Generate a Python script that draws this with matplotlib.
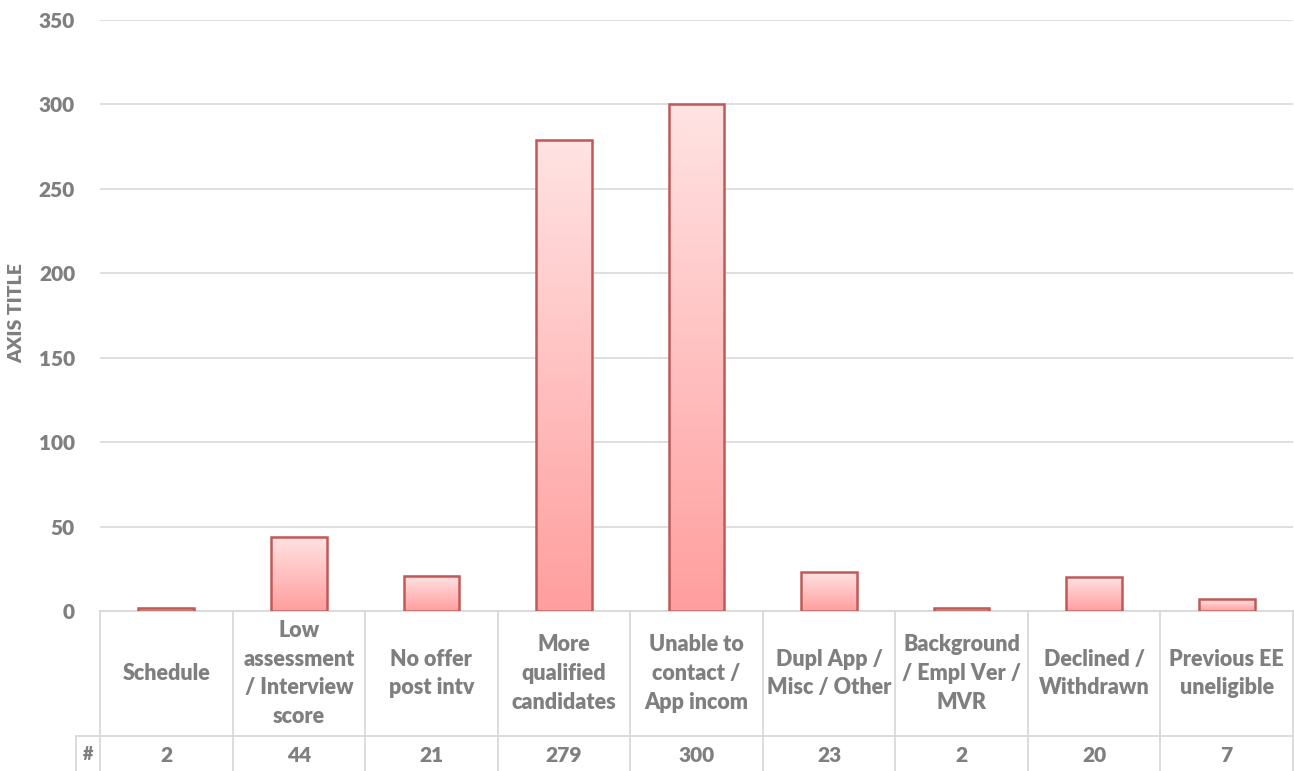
import numpy as np
import matplotlib.pyplot as plt
from matplotlib.colors import LinearSegmentedColormap
from matplotlib.lines import Line2D

categories = ['Schedule', 'Low\nassessment\n/ Interview\nscore', 'No offer\npost intv',
              'More\nqualified\ncandidates', 'Unable to\ncontact /\nApp incom',
              'Dupl App /\nMisc / Other', 'Background\n/ Empl Ver /\nMVR',
              'Declined /\nWithdrawn', 'Previous EE\nuneligible']
values = [2, 44, 21, 279, 300, 23, 2, 20, 7]
yticks = [0, 50, 100, 150, 200, 250, 300, 350]

plt.rcParams['font.family'] = ['Lato', 'DejaVu Sans']
txt = '#7f7f7f'
grid = '#d9d9d9'

fig = plt.figure(figsize=(12.94, 7.71), dpi=100)
ax = fig.add_axes([100 / 1294, 1 - 611 / 771, 1193 / 1294, 591 / 771])

n = len(values)
x = np.arange(n)
w = 0.42

cmap = LinearSegmentedColormap.from_list('pinkgrad', ['#ff9e9e', '#ffe3e3'])
grad = np.linspace(0, 1, 256).reshape(-1, 1)
bars = ax.bar(x, values, width=w, facecolor='none', edgecolor='#bf5a58', linewidth=1.8, zorder=3)
for b, v in zip(bars, values):
    ax.imshow(grad, cmap=cmap, origin='lower', aspect='auto', zorder=2,
              extent=[b.get_x(), b.get_x() + w, 0, v])
ax.set_xlim(-0.5, n - 0.5)
ax.set_ylim(0, 350)

ax.set_yticks(yticks)
ax.yaxis.grid(True, color=grid, linewidth=1.2, zorder=0)
ax.set_axisbelow(True)
ax.tick_params(axis='y', length=0, pad=18, labelsize=15, labelcolor=txt)
for lab in ax.get_yticklabels():
    lab.set_fontweight('heavy')
ax.set_xticks([])
for s in ax.spines.values():
    s.set_visible(False)

fig.text(17 / 1294, 1 - 313 / 771, 'AXIS TITLE', rotation=90, ha='center', va='center',
         fontsize=14, fontweight='heavy', color=txt)

# data table under the axis
h_axes = 591
r1 = -125 / h_axes
r2 = -160 / h_axes
lw = 1.3
tr = ax.get_xaxis_transform()
ax.add_line(Line2D([-0.5, n - 0.5], [0, 0], transform=tr, color=grid, lw=lw, clip_on=False))
x_hash = -0.5 - 24 / 132.6
ax.add_line(Line2D([x_hash, n - 0.5], [r1, r1], transform=tr, color=grid, lw=lw, clip_on=False))
ax.add_line(Line2D([x_hash, x_hash], [r1, r2], transform=tr, color=grid, lw=lw, clip_on=False))
for i in range(n + 1):
    ax.add_line(Line2D([i - 0.5, i - 0.5], [0, r2], transform=tr, color=grid, lw=lw, clip_on=False))
for i in range(n):
    ax.text(i, r1 / 2, categories[i], transform=tr, ha='center', va='center',
            fontsize=15.5, fontweight='heavy', color=txt, linespacing=1.45)
    ax.text(i, (r1 + r2) / 2 - 1.5 / h_axes, str(values[i]), transform=tr, ha='center',
            va='center', fontsize=15, fontweight='heavy', color=txt)
ax.text((x_hash - 0.5) / 2, (r1 + r2) / 2 - 1.5 / h_axes, '#', transform=tr, ha='center',
        va='center', fontsize=13, fontweight='heavy', color=txt)

fig.savefig('out.png', dpi=100)
